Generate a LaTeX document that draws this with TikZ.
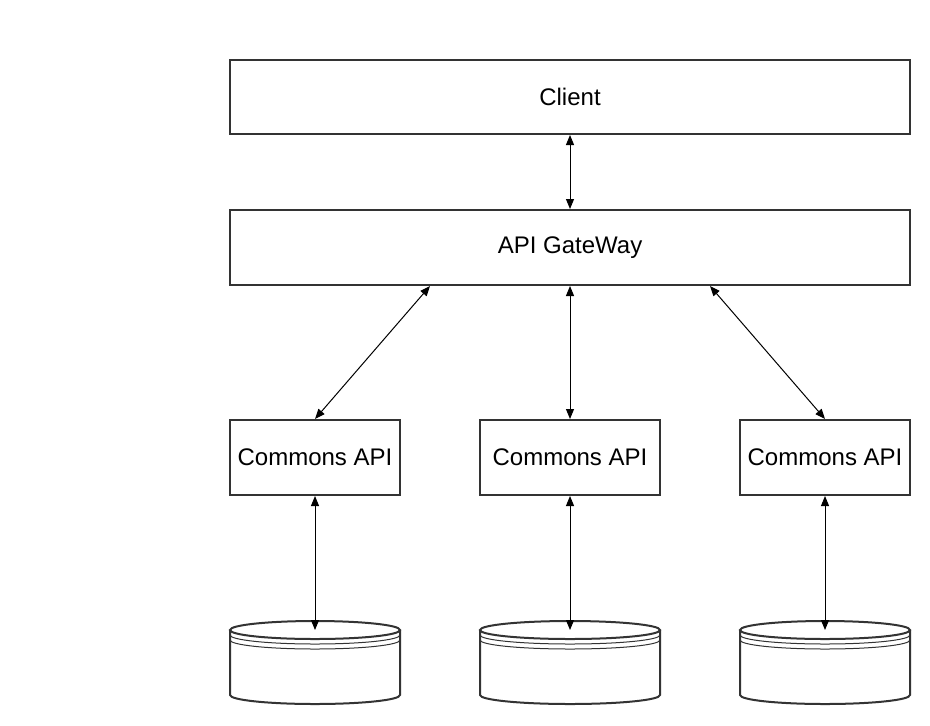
\documentclass[tikz,border=0pt]{standalone}
\usepackage{fontspec}
\setmainfont{Liberation Sans}
\usetikzlibrary{arrows.meta}
\definecolor{bordc}{HTML}{333333}
\begin{document}
\begin{tikzpicture}[x=0.75pt,y=-0.75pt,
  box/.style={draw=bordc,line width=1.5pt,fill=white,inner sep=0pt,font=\fontsize{18}{21}\selectfont},
  conn/.style={draw=black,line width=0.75pt,{Triangle[length=7.5pt,width=6pt]}-{Triangle[length=7.5pt,width=6pt]}},
  dbline/.style={draw=bordc,line width=1.5pt},
  dbthin/.style={draw=bordc,line width=0.75pt}]
\useasboundingbox[fill=white] (0,0) rectangle (930,725);
% boxes
\node[box,minimum width=510pt,minimum height=55.5pt] (client) at (570,97) {Client};
\node[box,minimum width=510pt,minimum height=56.25pt] (gw) at (570,247.5) {API GateWay};
\node[box,minimum width=127.5pt,minimum height=56.25pt] (c1) at (315,457.5) {Commons API};
\node[box,minimum width=135pt,minimum height=56.25pt] (c2) at (570,457.5) {Commons API};
\node[box,minimum width=127.5pt,minimum height=56.25pt] (c3) at (825,457.5) {Commons API};
% datastores
\foreach \cx/\rx/\nm in {315/85/db1,570/90/db2,825/85/db3}{
  \fill[white] (\cx-\rx,630) -- (\cx-\rx,695) arc[start angle=180,end angle=0,x radius=\rx,y radius=9] -- (\cx+\rx,630) arc[start angle=0,end angle=-180,x radius=\rx,y radius=9];
  \draw[dbline] (\cx-\rx,630) -- (\cx-\rx,695) arc[start angle=180,end angle=0,x radius=\rx,y radius=9] -- (\cx+\rx,630);
  \draw[dbline] (\cx,630) ellipse[x radius=\rx,y radius=9];
  \draw[dbthin] (\cx-\rx,635) arc[start angle=180,end angle=0,x radius=\rx,y radius=9];
  \draw[dbthin] (\cx-\rx,640) arc[start angle=180,end angle=0,x radius=\rx,y radius=9];
  \coordinate (\nm) at (\cx,630);
}
% connectors
\draw[conn] (client.south) -- (gw.north);
\draw[conn] ([xshift=-105pt]gw.south) -- (c1.north);
\draw[conn] (gw.south) -- (c2.north);
\draw[conn] ([xshift=105pt]gw.south) -- (c3.north);
\draw[conn] (c1.south) -- (db1);
\draw[conn] (c2.south) -- (db2);
\draw[conn] (c3.south) -- (db3);
\end{tikzpicture}
\end{document}
